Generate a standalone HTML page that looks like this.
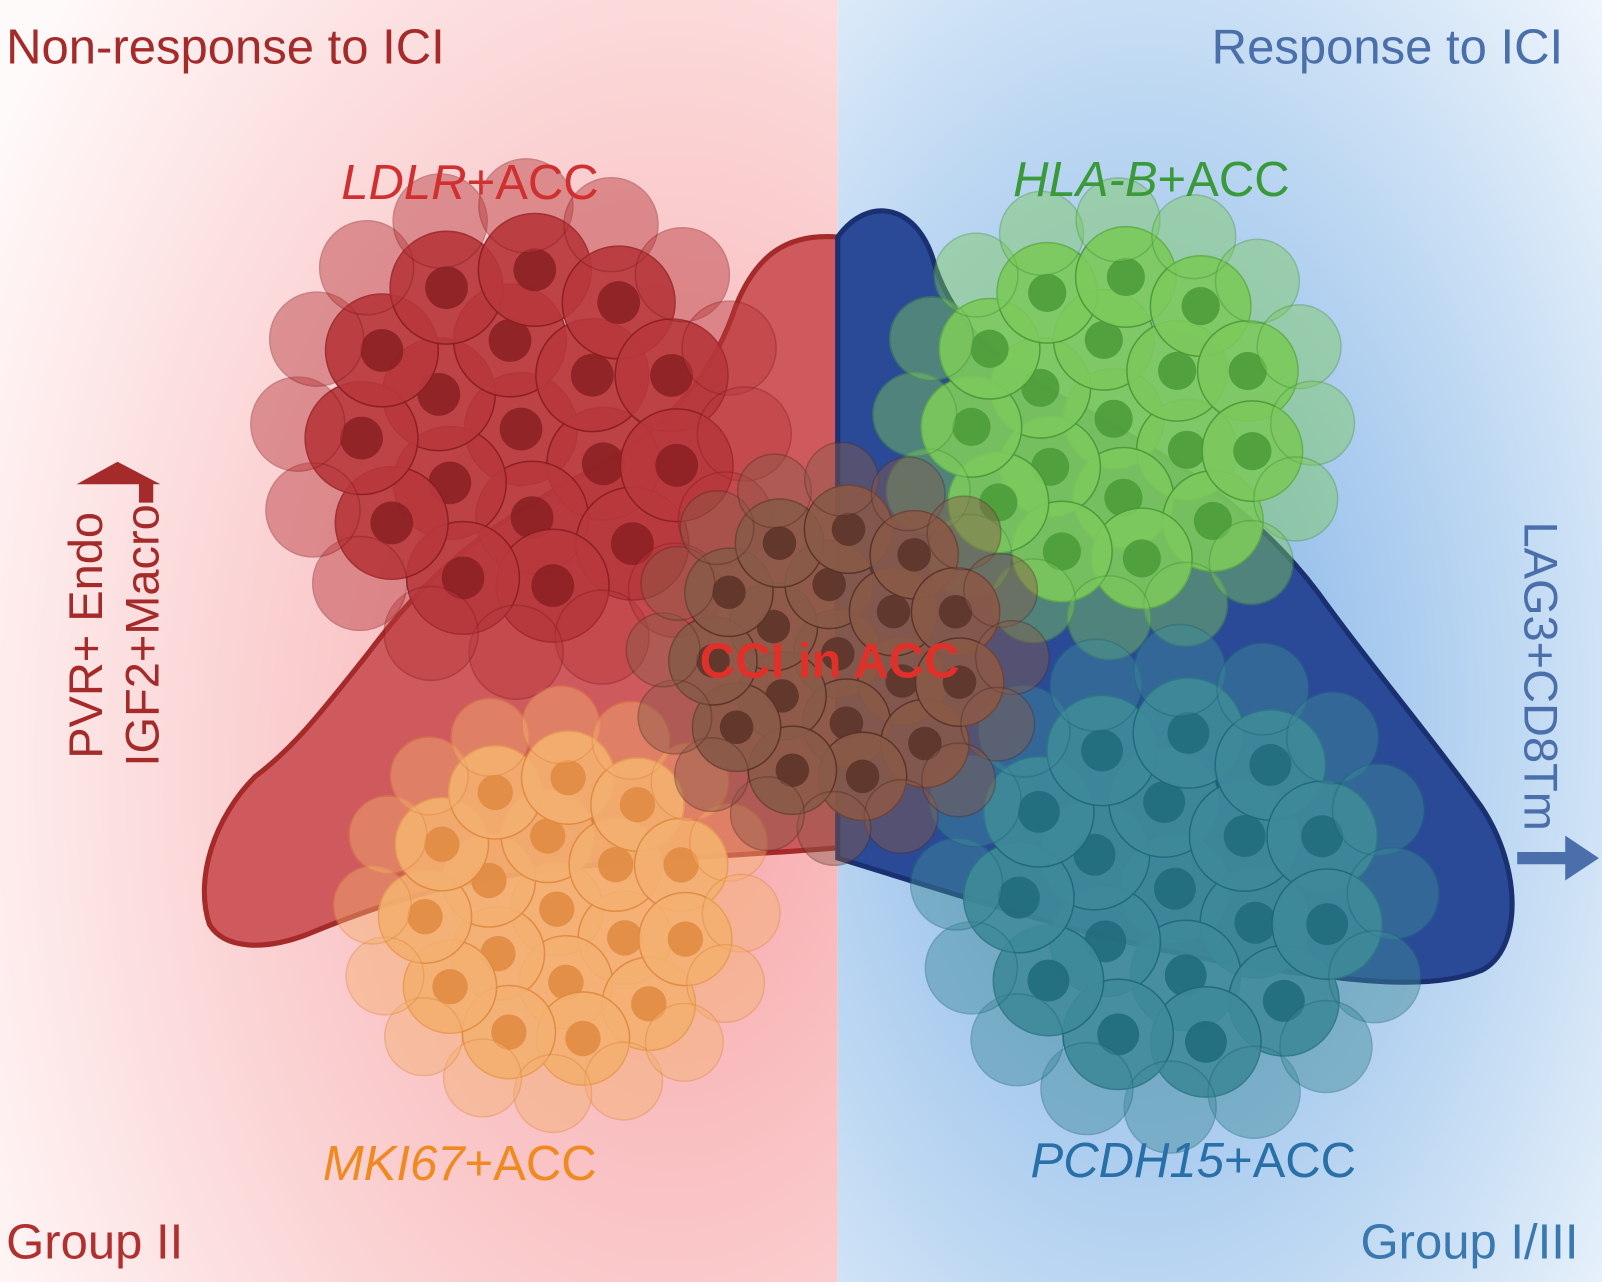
<!DOCTYPE html>
<html><head><meta charset="utf-8"><style>
html,body{margin:0;padding:0;background:#fff}
svg{display:block}
text{font-family:"Liberation Sans",sans-serif}
</style></head><body>
<svg width="1602" height="1282" viewBox="0 0 1568 1255" preserveAspectRatio="none" xmlns="http://www.w3.org/2000/svg">
<defs>
<radialGradient id="pinkG" cx="0.8" cy="0.6" r="0.95">
<stop offset="0" stop-color="#f7a7aa"/><stop offset="0.55" stop-color="#fbd3d4"/><stop offset="1" stop-color="#fffafa"/>
</radialGradient>
<radialGradient id="blueG" cx="0.4" cy="0.55" r="0.85">
<stop offset="0" stop-color="#7fb0e6"/><stop offset="0.55" stop-color="#bcd7f2"/><stop offset="1" stop-color="#f5f9fd"/>
</radialGradient>
</defs>
<rect x="0" y="0" width="820" height="1255" fill="url(#pinkG)"/>
<rect x="820" y="0" width="748" height="1255" fill="url(#blueG)"/>
<path d="M820,232 C770,228 740,250 720,300 C700,360 660,420 560,470 C470,520 420,560 360,640 C320,690 290,730 250,760 C210,800 190,860 205,905 C220,930 260,930 300,915 C360,890 420,870 480,860 C600,840 700,840 820,830 Z" fill="#cf5a5e" stroke="#a52a2a" stroke-width="5"/>
<path d="M820,232 C850,190 900,200 915,260 C935,320 980,360 1060,400 C1150,450 1230,500 1290,580 C1340,650 1400,720 1450,790 C1490,850 1490,930 1450,950 C1400,970 1330,960 1250,950 C1100,930 950,880 820,840 Z" fill="#2a4a98" stroke="#1a3070" stroke-width="5"/>
<g id="clusters"></g>
<text x="6" y="62" font-size="48" fill="#a52a2a">Non-response to ICI</text>
<text x="1530" y="62" font-size="48" fill="#4a6faa" text-anchor="end">Response to ICI</text>
<text x="460" y="195" font-size="48" fill="#d03030" text-anchor="middle"><tspan font-style="italic">LDLR</tspan>+ACC</text>
<text x="1127" y="192" font-size="48" fill="#3a9a3a" text-anchor="middle"><tspan font-style="italic">HLA-B</tspan>+ACC</text>
<text x="450" y="1155" font-size="48" fill="#f08a20" text-anchor="middle"><tspan font-style="italic">MKI67</tspan>+ACC</text>
<text x="1168" y="1152" font-size="48" fill="#2a70a8" text-anchor="middle"><tspan font-style="italic">PCDH15</tspan>+ACC</text>
<text x="812" y="663" font-size="48" font-weight="bold" fill="#e0302a" text-anchor="middle">CCI in ACC</text>
<text x="6" y="1232" font-size="48" fill="#b03030">Group II</text>
<text x="1545" y="1232" font-size="48" fill="#3a78b0" text-anchor="end">Group I/III</text>
<text transform="translate(100,622) rotate(-90)" font-size="46" fill="#a52a2a" text-anchor="middle">PVR+ Endo</text>
<text transform="translate(155,622) rotate(-90)" font-size="46" fill="#a52a2a" text-anchor="middle">IGF2+Macro</text>
<path d="M115,452 L75,474 L136,474 L136,492 L150,492 L150,474 L157,474 Z" fill="#a52a2a"/>
<text transform="translate(1492,662) rotate(90)" font-size="46" fill="#4a6faa" text-anchor="middle">LAG3+CD8Tm</text>
<path d="M1565,840 L1532,818 L1532,834 L1485,834 L1485,846 L1532,846 L1532,862 Z" fill="#4a6faa"/>
</svg>
<script>
const ns="http://www.w3.org/2000/svg";
const g=document.getElementById('clusters');
const clusters=[
 {name:'ldlr-cluster',cx:510,cy:420,r:230,fill:'#b8383c',nuc:'#8a1e22'},
 {name:'hla-b-cluster',cx:1090,cy:410,r:205,fill:'#7cc95c',nuc:'#4a9a38'},
 {name:'mki67-cluster',cx:545,cy:890,r:190,fill:'#f4b070',nuc:'#e08a40'},
 {name:'pcdh15-cluster',cx:1150,cy:870,r:225,fill:'#3f8a9a',nuc:'#1f6a7a'},
 {name:'cci-cluster',cx:820,cy:640,r:180,fill:'#8a5a48',nuc:'#5a3228'}
];
clusters.forEach(c=>{
 const cg=document.createElementNS(ns,'g');
 
 
 const rings=[[0,1],[0.38,6],[0.68,11],[0.95,16]];
 rings.forEach(([rf,n],ri)=>{
  for(let i=0;i<n;i++){
   const a=i/n*Math.PI*2+ri*0.4;
   const x=c.cx+Math.cos(a)*c.r*rf, y=c.cy+Math.sin(a)*c.r*rf;
   const cr=c.r*(ri===3?0.2:0.24);
   const cell=document.createElementNS(ns,'circle');
   cell.setAttribute('cx',x);cell.setAttribute('cy',y);cell.setAttribute('r',cr);
   cell.setAttribute('fill',c.fill);cell.setAttribute('stroke',c.nuc);cell.setAttribute('stroke-width','1.5');
   cell.setAttribute('opacity',ri===3?0.45:0.92);
   
   
   cg.appendChild(cell);
   if(ri<3){
    const nu=document.createElementNS(ns,'circle');
    nu.setAttribute('cx',x);nu.setAttribute('cy',y);nu.setAttribute('r',cr*0.38);
    nu.setAttribute('fill',c.nuc);nu.setAttribute('opacity','0.85');
    
    
    cg.appendChild(nu);
   }
  }
 });
 g.appendChild(cg);
});
</script>
</body></html>
